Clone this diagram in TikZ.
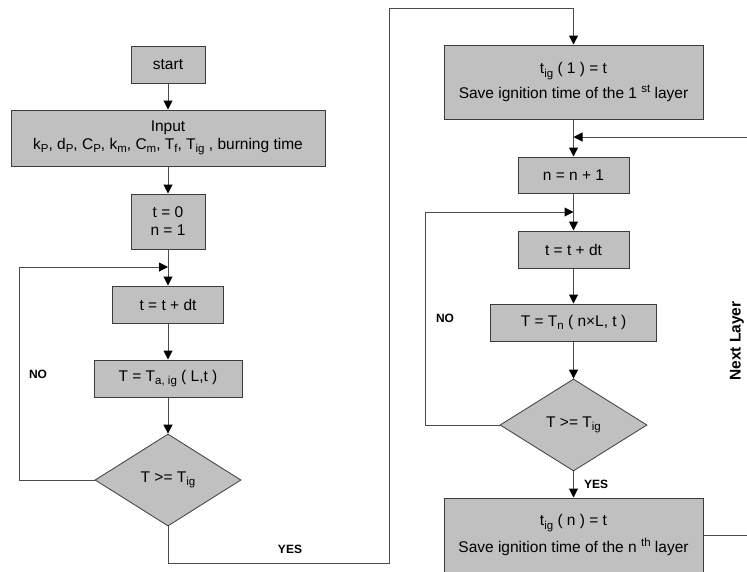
\documentclass[tikz,border=0pt]{standalone}
\usepackage{fontspec}
\setmainfont{Liberation Sans}
\usetikzlibrary{arrows.meta,shapes.geometric}
\definecolor{boxfill}{RGB}{192,192,192}
\definecolor{boxline}{RGB}{60,60,60}
\definecolor{conn}{RGB}{75,75,75}
\newcommand{\mysb}[1]{\raisebox{-3.5pt}{\fontsize{11.5}{12}\selectfont #1}}
\newcommand{\mysp}[1]{\raisebox{6pt}{\fontsize{11.5}{12}\selectfont #1}}
\begin{document}
\begin{tikzpicture}[x=1pt,y=-1pt,
  box/.style={draw=boxline, fill=boxfill, line width=1pt, inner sep=0pt, align=center,
    font=\fontsize{15.5}{18}\selectfont},
  dec/.style={diamond, draw=boxline, fill=boxfill, line width=0.8pt, inner sep=0pt,
    font=\fontsize{15.5}{18}\selectfont},
  arr/.style={draw=conn, line width=1pt, -{Triangle[length=9pt,width=9pt,color=black]}},
  ln/.style={draw=conn, line width=1pt},
  lbl/.style={font=\bfseries\fontsize{12}{14}\selectfont},
  side/.style={font=\bfseries\fontsize{15.5}{18}\selectfont, rotate=90}]
\useasboundingbox (0,0) rectangle (747,571);
% left column
\node[box, minimum width=74pt, minimum height=37pt] (start) at (168,64.5) {start};
\node[box, minimum width=314pt, minimum height=56pt] (input) at (168,138)
  {Input\\ k\mysb{P}, d\mysb{P}, C\mysb{P}, k\mysb{m}, C\mysb{m}, T\mysb{f}, T\mysb{ig} , burning time};
\node[box, minimum width=74pt, minimum height=55pt] (init) at (168,221.5) {t = 0\\ n = 1};
\node[box, minimum width=111pt, minimum height=37pt] (step1) at (168,304.5) {t = t + dt};
\node[box, minimum width=148pt, minimum height=37pt] (calc1) at (168,378.5) {T = T\mysb{a, ig} ( L,t )};
\node[dec, minimum width=146pt, minimum height=92pt] (dec1) at (168,480) {T >= T\mysb{ig}};
% right column
\node[box, minimum width=259pt, minimum height=74pt] (save1) at (573.5,82)
  {t\mysb{ig} ( 1 ) = t\\[4pt] Save ignition time of the 1 \mysp{st} layer};
\node[box, minimum width=111pt, minimum height=36pt] (nplus) at (573.5,175) {n = n + 1};
\node[box, minimum width=111pt, minimum height=37pt] (step2) at (573.5,249.5) {t = t + dt};
\node[box, minimum width=166pt, minimum height=37pt] (calc2) at (573.5,322.5) {T = T\mysb{n} ( n×L, t )};
\node[dec, minimum width=147pt, minimum height=92pt] (dec2) at (573.5,425) {T >= T\mysb{ig}};
\node[box, minimum width=259pt, minimum height=74pt] (saven) at (573.5,535)
  {t\mysb{ig} ( n ) = t\\[5pt] Save ignition time of the n \mysp{th} layer};
% junctions and free ends
\coordinate (j1) at (168,267);
\coordinate (j2) at (573.5,137);
\coordinate (j3) at (573.5,212);
\coordinate (nl) at (747,137);
\coordinate (nr) at (747,535);
% connectors left
\draw[arr] (start.south) -- (input.north);
\draw[arr] (input.south) -- (init.north);
\draw[arr] (init.south) -- (step1.north);
\draw[arr] (dec1.west) -- ++(-75,0) |- (j1);
\draw[arr] (step1.south) -- (calc1.north);
\draw[arr] (calc1.south) -- (dec1.north);
\draw[arr] (dec1.south) -- ++(0,37) -- ++(221,0) |- ([yshift=36pt]save1.north) -- (save1.north);
% connectors right
\draw[arr] (save1.south) -- (nplus.north);
\draw[arr] (nl) -- (j2);
\draw[arr] (nplus.south) -- (step2.north);
\draw[arr] (dec2.west) -- ++(-74,0) |- (j3);
\draw[arr] (step2.south) -- (calc2.north);
\draw[arr] (calc2.south) -- (dec2.north);
\draw[arr] (dec2.south) -- (saven.north);
\draw[ln] (saven.east) -- (nr);
% labels
\node[lbl] (no1) at (38,374) {NO};
\node[lbl] (yes1) at (290,549) {YES};
\node[lbl] (no2) at (445,318) {NO};
\node[lbl] (yes2) at (596,484) {YES};
\node[side] (next) at (737,341) {Next Layer};
\end{tikzpicture}
\end{document}
